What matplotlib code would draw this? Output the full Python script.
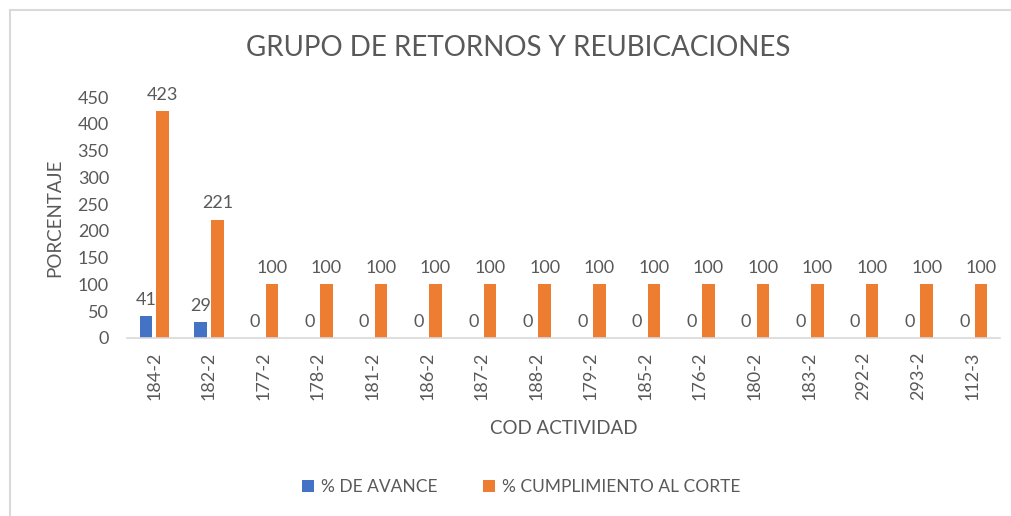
import numpy as np
import matplotlib
matplotlib.use("Agg")
import matplotlib.pyplot as plt
from matplotlib.patches import Rectangle

plt.rcParams["font.family"] = ["Lato", "DejaVu Sans"]

# ---------- data ----------
codes = ["184-2", "182-2", "177-2", "178-2", "181-2", "186-2", "187-2", "188-2",
         "179-2", "185-2", "176-2", "180-2", "183-2", "292-2", "293-2", "112-3"]
avance = [41, 29, 0, 0, 0, 0, 0, 0, 0, 0, 0, 0, 0, 0, 0, 0]
cumplimiento = [423, 221, 100, 100, 100, 100, 100, 100, 100, 100, 100, 100,
                100, 100, 100, 100]

BLUE = "#4472C4"
ORANGE = "#ED7D31"
TXT = "#595959"

fig = plt.figure(figsize=(10.11, 5.16), dpi=100)
ax = fig.add_axes([127 / 1011, 1 - 338 / 516, 873 / 1011, 241 / 516])

# outer chart frame (clipped on right/bottom like the source)
fig.patches.append(Rectangle((10 / 1011, -0.05), 1.1, 1 - 10 / 516 + 0.05,
                             transform=fig.transFigure, fill=False,
                             edgecolor="#D9D9D9", linewidth=1.5))

x = np.arange(len(codes))
w = 0.23
off = 0.155
b1 = ax.bar(x - off, avance, w, color=BLUE, label="% DE AVANCE")
b2 = ax.bar(x + off, cumplimiento, w, color=ORANGE, label="% CUMPLIMIENTO AL CORTE")

for bars, vals in ((b1, avance), (b2, cumplimiento)):
    for r, v in zip(bars, vals):
        ax.annotate(f"{v}", (r.get_x() + r.get_width() / 2, v),
                    xytext=(0, 6), textcoords="offset points",
                    ha="center", va="bottom", fontsize=13, color=TXT)

ax.set_xlim(-0.5, len(codes) - 0.5)
ax.set_ylim(0, 450)
ax.set_yticks(range(0, 451, 50))
ax.set_xticks(x)
ax.set_xticklabels(codes, rotation=90)
ax.tick_params(axis="both", length=0, labelsize=13, labelcolor=TXT)
ax.tick_params(axis="y", pad=13)
ax.tick_params(axis="x", pad=10)

for s in ("top", "right", "left"):
    ax.spines[s].set_visible(False)
ax.spines["bottom"].set_color("#D9D9D9")
ax.spines["bottom"].set_linewidth(1.2)

ax.set_ylabel("PORCENTAJE", fontsize=13.5, color=TXT, labelpad=10)
ax.set_xlabel("COD ACTIVIDAD", fontsize=13.5, color=TXT, labelpad=14)

fig.text(518 / 1011, 1 - 48 / 516, "GRUPO DE RETORNOS Y REUBICACIONES",
         ha="center", va="center", fontsize=20, color=TXT)

fig.legend(handles=[b1, b2], loc="center", bbox_to_anchor=(521 / 1011, 1 - 487 / 516),
           ncol=2, frameon=False, fontsize=12.5, labelcolor=TXT,
           handlelength=0.7, handleheight=0.7, handletextpad=0.4, columnspacing=2.6)

fig.savefig("out.png", dpi=100)
